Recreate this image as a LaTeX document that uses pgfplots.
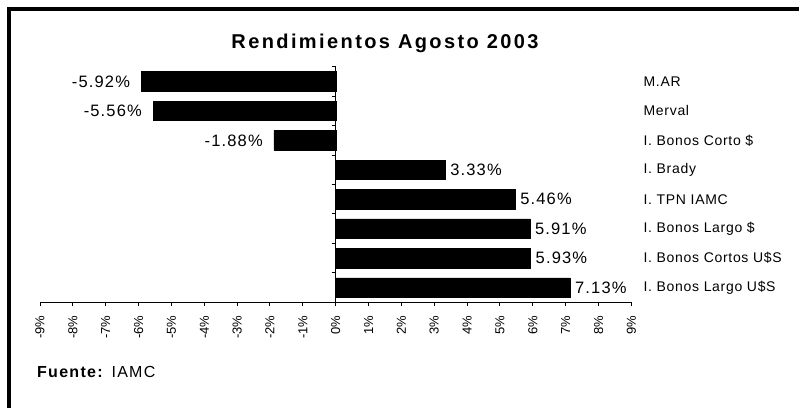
\documentclass[border=0pt]{standalone}
\usepackage{pgfplots}
\pgfplotsset{compat=1.18}
\usepackage{fontspec}
\setmainfont{Liberation Sans}
\newfontfamily\titlefont[LetterSpace=12]{Liberation Sans}
\newfontfamily\catfont[LetterSpace=5]{Liberation Sans}
\newfontfamily\valfont[LetterSpace=7]{Liberation Sans}
\newfontfamily\srcfont[LetterSpace=8]{Liberation Sans}
\begin{document}
\begin{tikzpicture}
\useasboundingbox (0pt,0pt) rectangle (799pt,408pt);
\draw[line width=4pt] (8.7pt,0pt) -- (8.7pt,399.3pt) -- (799pt,399.3pt);
\begin{axis}[
  at={(40pt,105.7pt)}, anchor=south west,
  width=591.4pt, height=235.6pt, scale only axis,
  xmin=-9, xmax=9, ymin=0.5, ymax=8.5,
  axis x line=bottom, axis y line=middle,
  hide obscured x ticks=false,
  axis line style={-, line width=1.3pt},
  tick style={line width=1pt, black},
  tick align=outside,
  major tick length=4pt,
  xtick={-9,-8,-7,-6,-5,-4,-3,-2,-1,0,1,2,3,4,5,6,7,8,9},
  xticklabels={-9\%,-8\%,-7\%,-6\%,-5\%,-4\%,-3\%,-2\%,-1\%,0\%,1\%,2\%,3\%,4\%,5\%,6\%,7\%,8\%,9\%},
  xticklabel style={yshift=-6pt, rotate=90, anchor=east, font=\fontsize{13}{15}\selectfont},
  ytick={0.5,1.5,2.5,3.5,4.5,5.5,6.5,7.5,8.5},
  yticklabels={},
  point meta=x,
  nodes near coords={\pgfmathprintnumber[fixed,precision=2,fixed zerofill,assume math mode=true]{\pgfplotspointmeta}\%},
  nodes near coords style={font=\valfont\fontsize{16.5}{19}\selectfont, inner sep=5pt},
  clip=false,
]
\addplot[xbar, bar width=19.5pt, bar shift=0pt, fill=black, draw=black, point meta=x,
  every node near coord/.append style={anchor=east, xshift=-6pt}]
  coordinates {(-5.92,8) (-5.56,7) (-1.88,6)};
\addplot[xbar, bar width=19.5pt, bar shift=0pt, fill=black, draw=black, point meta=x,
  every node near coord/.append style={anchor=west}]
  coordinates {(3.33,5) (5.46,4) (5.91,3) (5.93,2) (7.13,1)};
\end{axis}
\begin{axis}[
  at={(40pt,105.7pt)}, anchor=south west,
  width=591.4pt, height=235.6pt, scale only axis,
  xmin=-9, xmax=9, ymin=0.5, ymax=8.5,
  axis x line=none, axis y line*=right,
  y axis line style={draw=none},
  major tick length=0pt,
  ytick={1,2,3,4,5,6,7,8},
  yticklabels={I. Bonos Largo U\$S, I. Bonos Cortos U\$S, I. Bonos Largo \$, I. TPN IAMC, I. Brady, I. Bonos Corto \$, Merval, M.AR},
  yticklabel style={anchor=west, inner sep=0pt, xshift=12pt, font=\catfont\fontsize{14}{17}\selectfont},
]
\addplot[draw=none] coordinates {(0,1)};
\end{axis}
\node[anchor=base] at (385pt,359.7pt) {\titlefont\bfseries\fontsize{20}{24}\selectfont Rendimientos Agosto 2003};
\node[anchor=base west, inner sep=0pt] at (37pt,31pt) {\srcfont\fontsize{16}{19}\selectfont\textbf{Fuente:} IAMC};
\end{tikzpicture}
\end{document}
